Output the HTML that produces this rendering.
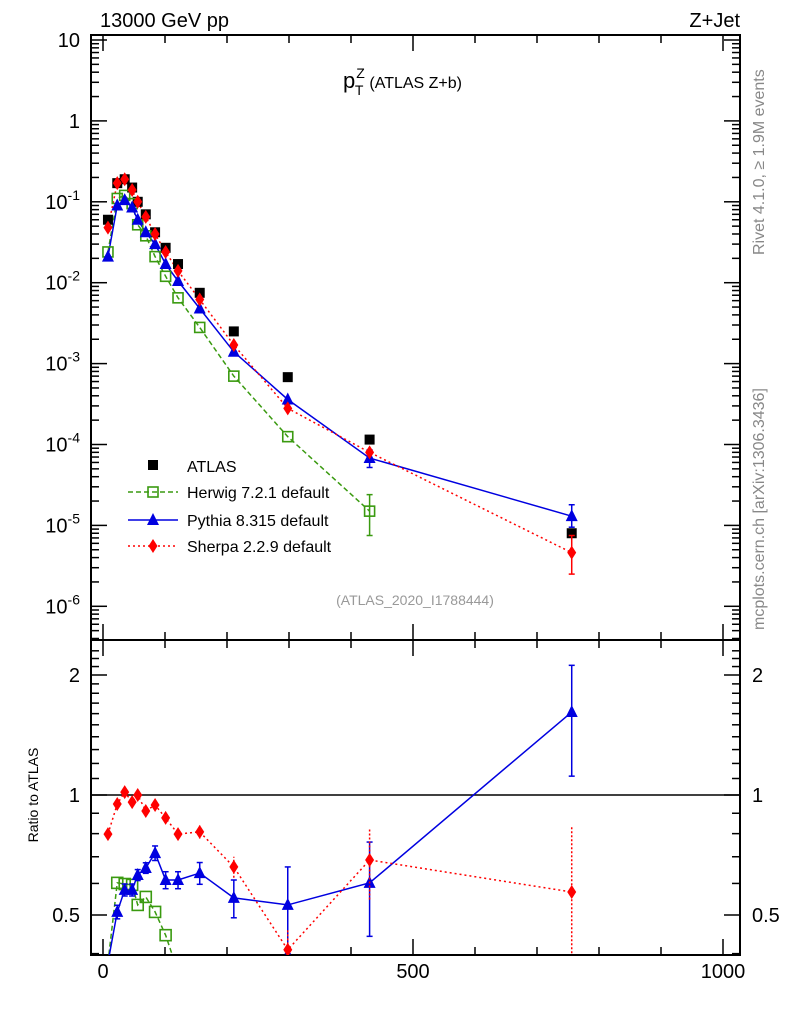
<!DOCTYPE html>
<html><head><meta charset="utf-8"><style>
body{margin:0;background:#fff}
svg{display:block;font-family:"Liberation Sans",sans-serif}
</style></head><body>
<svg id="c" width="786" height="1024" viewBox="0 0 786 1024">
</svg>
<script>
const xCenters=[8,23,35,47,56,69,84,101,121,156,211,298,430,756];
const atlasVals=[0.06,0.17,0.19,0.15,0.10,0.07,0.042,0.027,0.017,0.0075,0.0025,0.00068,0.000115,0.000008];
const herwigVals=[0.024,0.11,0.12,0.095,0.052,0.038,0.021,0.012,0.0065,0.0028,0.0007,0.000125,0.000015];
const pythiaVals=[0.021,0.09,0.105,0.085,0.06,0.042,0.03,0.017,0.0105,0.0048,0.0014,0.00036,0.000068,0.000013];
const sherpaVals=[0.048,0.17,0.19,0.14,0.1,0.065,0.04,0.024,0.014,0.0062,0.0017,0.00028,0.00008,0.0000046];
const herwigRatio=[0.38,0.602,0.598,0.595,0.53,0.555,0.509,0.445,0.36,0.3,0.3,0.3,0.3];
const pythiaRatio=[0.38,0.509,0.578,0.578,0.63,0.656,0.715,0.612,0.612,0.637,0.552,0.53,0.602,1.615];
const pythiaErr=[0.01,0.02,0.02,0.02,0.02,0.02,0.03,0.03,0.03,0.04,0.06,0.13,0.16,0.5];
const sherpaRatio=[0.798,0.949,1.017,0.96,1.0,0.912,0.944,0.876,0.798,0.808,0.66,0.409,0.687,0.571];
const sherpaErr=[0.01,0.01,0.01,0.01,0.01,0.01,0.01,0.02,0.02,0.03,0.04,0.05,0.14,0.26];
const xTicks=[0,500,1000];
const yMainDecades=[1,0,-1,-2,-3,-4,-5,-6];
const yRatioTicks=[0.5,1,2];

const NS="http://www.w3.org/2000/svg";
const svg=document.getElementById('c');
const L=91,R=740,T1=35,B1=640,T2=640,B2=955;
const X=v=>103+v*0.62;
const Y1=v=>40-(Math.log10(v)-1)*80.9;
const Y2=v=>795-Math.log2(v)*120;
function el(tag,attrs,parent,name,text){const e=document.createElementNS(NS,tag);for(const k in attrs)e.setAttribute(k,attrs[k]);


if(text!==undefined)e.textContent=text;(parent||svg).appendChild(e);return e;}
const defs=el('defs',{},svg,'defs');
const c1=el('clipPath',{id:'cp1'},defs,'clip-main');el('rect',{x:L,y:T1,width:R-L,height:B1-T1},c1,'clip-rect');
const c2=el('clipPath',{id:'cp2'},defs,'clip-ratio');el('rect',{x:L,y:T2,width:R-L,height:B2-T2},c2,'clip-rect');
el('rect',{x:L,y:T1,width:R-L,height:B1-T1,fill:'none',stroke:'#000','stroke-width':2},svg,'main-frame');
el('rect',{x:L,y:T2,width:R-L,height:B2-T2,fill:'none',stroke:'#000','stroke-width':2},svg,'ratio-frame');
for(let v=0;v<=1000;v+=100){const maj=v%500===0;const x=X(v);const len=maj?16:8;
 [[T1,1],[B1,-1],[T2,1],[B2,-1]].forEach(([y,d])=>el('line',{x1:x,x2:x,y1:y,y2:y+d*len,stroke:'#000','stroke-width':1.5},svg,'x-tick'));}
xTicks.forEach(v=>el('text',{x:X(v),y:978,'font-size':20,'text-anchor':'middle'},svg,'x-tick-label',String(v)));
for(let d=-7;d<=1;d++){for(let m=1;m<10;m++){const v=m*Math.pow(10,d);const y=Y1(v);if(y<T1||y>B1)continue;const len=m===1?16:8;
 el('line',{x1:L,x2:L+len,y1:y,y2:y,stroke:'#000','stroke-width':1.5},svg,'y-tick');
 el('line',{x1:R,x2:R-len,y1:y,y2:y,stroke:'#000','stroke-width':1.5},svg,'y-tick');}}
yMainDecades.forEach(d=>{const y=Y1(Math.pow(10,d))+7;
 if(d===1)el('text',{x:80,y:y,'font-size':20,'text-anchor':'end'},svg,'y-tick-label','10');
 else if(d===0)el('text',{x:80,y:y,'font-size':20,'text-anchor':'end'},svg,'y-tick-label','1');
 else{const t=el('text',{x:80,y:y,'font-size':20,'text-anchor':'end'},svg,'y-tick-label');
  el('tspan',{},t,'base','10');el('tspan',{dy:-9,'font-size':14},t,'exponent',String(d));}});
for(let v=0.4;v<=2.4;v+=0.1){const y=Y2(v);if(y<T2||y>B2)continue;const maj=[0.5,1,2].some(q=>Math.abs(q-v)<1e-6);const len=maj?16:8;
 el('line',{x1:L,x2:L+len,y1:y,y2:y,stroke:'#000','stroke-width':1.5},svg,'ratio-y-tick');
 el('line',{x1:R,x2:R-len,y1:y,y2:y,stroke:'#000','stroke-width':1.5},svg,'ratio-y-tick');}
yRatioTicks.forEach(v=>{const y=Y2(v)+7;
 el('text',{x:80,y:y,'font-size':20,'text-anchor':'end'},svg,'ratio-y-label',String(v));
 el('text',{x:752,y:y,'font-size':20},svg,'ratio-y-label-right',String(v));});
el('line',{x1:L,x2:R,y1:Y2(1),y2:Y2(1),stroke:'#000','stroke-width':1.5},svg,'unity-line');
el('text',{x:100,y:27,'font-size':20},svg,'title-left','13000 GeV pp');
el('text',{x:740,y:27,'font-size':20,'text-anchor':'end'},svg,'title-right','Z+Jet');
const pt=el('text',{x:343,y:88,'font-size':22},svg,'plot-title','p');
el('tspan',{dx:1,dy:-10,'font-size':14},pt,'sup','Z');el('tspan',{dx:-10,dy:17,'font-size':14},pt,'sub','T');
el('tspan',{dx:6,dy:-7,'font-size':16},pt,'title-rest','(ATLAS Z+b)');
el('text',{x:415,y:605,'font-size':14,fill:'#999','text-anchor':'middle'},svg,'analysis-id','(ATLAS_2020_I1788444)');
el('text',{x:0,y:0,'font-size':16,fill:'#888',transform:'translate(764,255) rotate(-90)'},svg,'rivet-label','Rivet 4.1.0, ≥ 1.9M events');
el('text',{x:0,y:0,'font-size':16,fill:'#888',transform:'translate(764,630) rotate(-90)'},svg,'mcplots-label','mcplots.cern.ch [arXiv:1306.3436]');
el('text',{x:0,y:0,'font-size':14,'text-anchor':'middle',transform:'translate(38,795) rotate(-90)'},svg,'ratio-y-title','Ratio to ATLAS');
const gM=el('g',{'clip-path':'url(#cp1)'},svg,'main-series');
const gR=el('g',{'clip-path':'url(#cp2)'},svg,'ratio-series');
function line(g,xs,ys,col,dash,name){el('polyline',{points:xs.map((x,i)=>x+','+ys[i]).join(' '),fill:'none',stroke:col,'stroke-width':1.5,'stroke-dasharray':dash},g,name);}
function square(g,x,y,col,fill,name,s){el('rect',{x:x-s/2,y:y-s/2,width:s,height:s,fill:fill?col:'#fff','fill-opacity':fill?1:0,stroke:col,'stroke-width':fill?0:1.6},g,name);}
function tri(g,x,y,name){el('polygon',{points:`${x},${y-7} ${x-6},${y+5} ${x+6},${y+5}`,fill:'#0000e0'},g,name);}
function dia(g,x,y,name){el('polygon',{points:`${x},${y-7} ${x-4.5},${y} ${x},${y+7} ${x+4.5},${y}`,fill:'#f00'},g,name);}
function errbar(g,x,y1,y2,col,name){el('line',{x1:x,x2:x,y1:y1,y2:y2,stroke:col,'stroke-width':1.5},g,name);
 el('line',{x1:x-3,x2:x+3,y1:y1,y2:y1,stroke:col,'stroke-width':1.5},g,name+'-cap');el('line',{x1:x-3,x2:x+3,y1:y2,y2:y2,stroke:col,'stroke-width':1.5},g,name+'-cap');}
const G='#3a9a10',B='#0000e0',Rd='#f00';
const hx=herwigVals.map((_,i)=>X(xCenters[i]));
line(gM,hx,herwigVals.map(Y1),G,'5,3','herwig-line');
line(gM,xCenters.map(X),pythiaVals.map(Y1),B,'','pythia-line');
line(gM,xCenters.map(X),sherpaVals.map(Y1),Rd,'2,3','sherpa-line');
atlasVals.forEach((v,i)=>square(gM,X(xCenters[i]),Y1(v),'#000',true,'atlas-point',10));
herwigVals.forEach((v,i)=>square(gM,X(xCenters[i]),Y1(v),G,false,'herwig-point',10));
errbar(gM,X(430),Y1(0.0000075),Y1(0.000024),G,'herwig-error');
errbar(gM,X(756),Y1(0.0000095),Y1(0.000018),B,'pythia-error');
errbar(gM,X(430),Y1(0.000052),Y1(0.000086),B,'pythia-error');
errbar(gM,X(756),Y1(0.0000025),Y1(0.0000075),Rd,'sherpa-error');
pythiaVals.forEach((v,i)=>tri(gM,X(xCenters[i]),Y1(v),'pythia-point'));
sherpaVals.forEach((v,i)=>dia(gM,X(xCenters[i]),Y1(v),'sherpa-point'));
line(gR,herwigRatio.map((_,i)=>X(xCenters[i])),herwigRatio.map(Y2),G,'5,3','herwig-ratio-line');
line(gR,xCenters.map(X),pythiaRatio.map(Y2),B,'','pythia-ratio-line');
line(gR,xCenters.map(X),sherpaRatio.map(Y2),Rd,'2,3','sherpa-ratio-line');
herwigRatio.forEach((v,i)=>square(gR,X(xCenters[i]),Y2(v),G,false,'herwig-ratio-point',11));
pythiaRatio.forEach((v,i)=>{const x=X(xCenters[i]);errbar(gR,x,Y2(v-pythiaErr[i]),Y2(v+pythiaErr[i]),B,'pythia-ratio-error');tri(gR,x,Y2(v),'pythia-ratio-point');});
sherpaRatio.forEach((v,i)=>{const x=X(xCenters[i]);el('line',{x1:x,x2:x,y1:Y2(Math.max(v-sherpaErr[i],0.3)),y2:Y2(v+sherpaErr[i]),stroke:Rd,'stroke-width':1.5,'stroke-dasharray':'2,2'},gR,'sherpa-ratio-error');dia(gR,x,Y2(v),'sherpa-ratio-point');});
const lg=el('g',{},svg,'legend');
square(lg,153,465,'#000',true,'legend-atlas-marker',10);
el('text',{x:187,y:472,'font-size':16},lg,'legend-atlas','ATLAS');
el('line',{x1:128,x2:178,y1:492,y2:492,stroke:G,'stroke-width':1.5,'stroke-dasharray':'5,3'},lg,'legend-herwig-line');
square(lg,153,492,G,false,'legend-herwig-marker',10);
el('text',{x:187,y:498,'font-size':16},lg,'legend-herwig','Herwig 7.2.1 default');
el('line',{x1:128,x2:178,y1:520,y2:520,stroke:B,'stroke-width':1.5},lg,'legend-pythia-line');
tri(lg,153,520,'legend-pythia-marker');
el('text',{x:187,y:526,'font-size':16},lg,'legend-pythia','Pythia 8.315 default');
el('line',{x1:128,x2:178,y1:546,y2:546,stroke:Rd,'stroke-width':1.5,'stroke-dasharray':'2,3'},lg,'legend-sherpa-line');
dia(lg,153,546,'legend-sherpa-marker');
el('text',{x:187,y:552,'font-size':16},lg,'legend-sherpa','Sherpa 2.2.9 default');
</script>
</body></html>
